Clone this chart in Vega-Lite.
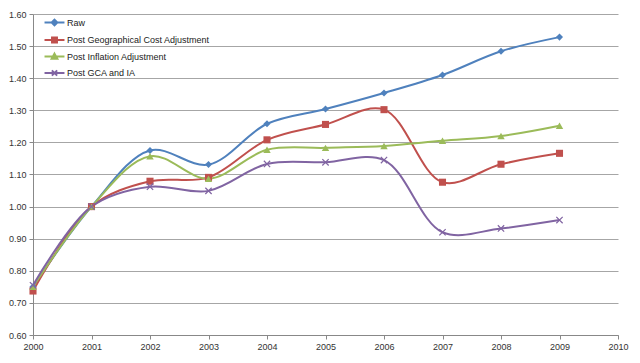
{
  "$schema": "https://vega.github.io/schema/vega-lite/v6.json",
  "width": 585,
  "height": 321,
  "autosize": {"type": "none"},
  "padding": {"left": 33, "top": 14, "right": 22, "bottom": 28},
  "background": "white",
  "config": {
    "font": "Liberation Sans",
    "view": {"stroke": null},
    "axis": {"labelFontSize": 9, "labelColor": "#333", "domainColor": "#888", "tickColor": "#888", "gridColor": "#a6a6a6", "tickSize": 4, "labelPadding": 3, "title": null, "labelFlush": false}
  },
  "data": {"values": [
    {"series": "Raw", "year": 2000, "value": 0.75},
    {"series": "Raw", "year": 2001, "value": 1.0},
    {"series": "Raw", "year": 2002, "value": 1.175},
    {"series": "Raw", "year": 2003, "value": 1.131},
    {"series": "Raw", "year": 2004, "value": 1.258},
    {"series": "Raw", "year": 2005, "value": 1.304},
    {"series": "Raw", "year": 2006, "value": 1.354},
    {"series": "Raw", "year": 2007, "value": 1.41},
    {"series": "Raw", "year": 2008, "value": 1.484},
    {"series": "Raw", "year": 2009, "value": 1.528},
    {"series": "Post Geographical Cost Adjustment", "year": 2000, "value": 0.737},
    {"series": "Post Geographical Cost Adjustment", "year": 2001, "value": 1.0},
    {"series": "Post Geographical Cost Adjustment", "year": 2002, "value": 1.079},
    {"series": "Post Geographical Cost Adjustment", "year": 2003, "value": 1.091},
    {"series": "Post Geographical Cost Adjustment", "year": 2004, "value": 1.208},
    {"series": "Post Geographical Cost Adjustment", "year": 2005, "value": 1.256},
    {"series": "Post Geographical Cost Adjustment", "year": 2006, "value": 1.302},
    {"series": "Post Geographical Cost Adjustment", "year": 2007, "value": 1.076},
    {"series": "Post Geographical Cost Adjustment", "year": 2008, "value": 1.132},
    {"series": "Post Geographical Cost Adjustment", "year": 2009, "value": 1.166},
    {"series": "Post Inflation Adjustment", "year": 2000, "value": 0.75},
    {"series": "Post Inflation Adjustment", "year": 2001, "value": 1.0},
    {"series": "Post Inflation Adjustment", "year": 2002, "value": 1.157},
    {"series": "Post Inflation Adjustment", "year": 2003, "value": 1.087},
    {"series": "Post Inflation Adjustment", "year": 2004, "value": 1.177},
    {"series": "Post Inflation Adjustment", "year": 2005, "value": 1.183},
    {"series": "Post Inflation Adjustment", "year": 2006, "value": 1.189},
    {"series": "Post Inflation Adjustment", "year": 2007, "value": 1.205},
    {"series": "Post Inflation Adjustment", "year": 2008, "value": 1.22},
    {"series": "Post Inflation Adjustment", "year": 2009, "value": 1.252},
    {"series": "Post GCA and IA", "year": 2000, "value": 0.755},
    {"series": "Post GCA and IA", "year": 2001, "value": 1.0},
    {"series": "Post GCA and IA", "year": 2002, "value": 1.062},
    {"series": "Post GCA and IA", "year": 2003, "value": 1.049},
    {"series": "Post GCA and IA", "year": 2004, "value": 1.133},
    {"series": "Post GCA and IA", "year": 2005, "value": 1.138},
    {"series": "Post GCA and IA", "year": 2006, "value": 1.145},
    {"series": "Post GCA and IA", "year": 2007, "value": 0.92},
    {"series": "Post GCA and IA", "year": 2008, "value": 0.932},
    {"series": "Post GCA and IA", "year": 2009, "value": 0.958}
  ]},
  "encoding": {
    "x": {"field": "year", "type": "quantitative", "scale": {"domain": [2000, 2010], "nice": false, "zero": false}, "axis": {"values": [2000,2001,2002,2003,2004,2005,2006,2007,2008,2009,2010], "format": "d", "grid": false}},
    "y": {"field": "value", "type": "quantitative", "scale": {"domain": [0.6, 1.6], "nice": false, "zero": false}, "axis": {"values": [0.6,0.7,0.8,0.9,1.0,1.1,1.2,1.3,1.4,1.5,1.6], "format": ".2f", "grid": true}},
    "color": {"field": "series", "type": "nominal", "scale": {"domain": ["Raw", "Post Geographical Cost Adjustment", "Post Inflation Adjustment", "Post GCA and IA"], "range": ["#4F81BD", "#C0504D", "#9BBB59", "#8064A2"]},
      "legend": {"orient": "none", "legendX": 13, "legendY": 0, "title": null, "symbolSize": 225, "rowPadding": 1.5, "labelOffset": 4, "labelFontSize": 9, "labelColor": "#222", "padding": 0,
        "encode": {"symbols": {"update": {
          "shape": {"signal": "datum.value === 'Raw' ? 'M-1.33,0L1.33,0M0,-0.38L0.38,0L0,0.38L-0.38,0Z' : datum.value === 'Post Geographical Cost Adjustment' ? 'M-1.33,0L1.33,0M-0.33,-0.33L0.33,-0.33L0.33,0.33L-0.33,0.33Z' : datum.value === 'Post Inflation Adjustment' ? 'M-1.33,0L1.33,0M0,-0.38L0.38,0.3L-0.38,0.3Z' : 'M-1.33,0L1.33,0M-0.35,-0.35L0.35,0.35M-0.35,0.35L0.35,-0.35'"},
          "stroke": {"signal": "scale('color', datum.value)"},
          "fill": {"signal": "scale('color', datum.value)"},
          "strokeWidth": {"value": 2},
          "opacity": {"value": 1}
        }}}
      }}
  },
  "layer": [
    {"mark": {"type": "line", "interpolate": "catmull-rom", "strokeWidth": 2}},
    {"transform": [{"filter": "datum.series === 'Raw'"}], "mark": {"type": "point", "filled": true, "shape": "diamond", "size": 50, "opacity": 1}},
    {"transform": [{"filter": "datum.series === 'Post Geographical Cost Adjustment'"}], "mark": {"type": "point", "filled": true, "shape": "square", "size": 50, "opacity": 1}},
    {"transform": [{"filter": "datum.series === 'Post Inflation Adjustment'"}], "mark": {"type": "point", "filled": true, "shape": "triangle-up", "size": 55, "opacity": 1}},
    {"transform": [{"filter": "datum.series === 'Post GCA and IA'"}], "mark": {"type": "point", "filled": false, "shape": "M-1,-1L1,1M-1,1L1,-1", "size": 40, "strokeWidth": 1.2, "opacity": 1}}
  ]
}
